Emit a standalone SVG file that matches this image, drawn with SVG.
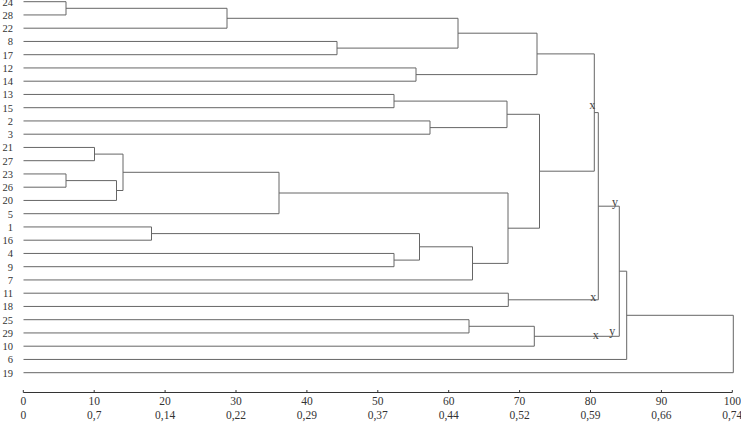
<svg xmlns="http://www.w3.org/2000/svg" width="741" height="425" viewBox="0 0 741 425">
<style>
text{font-family:"Liberation Serif","Times New Roman",Times,serif}
.lbl{font-size:10.5px;fill:#333;text-anchor:end}
.ax{font-size:11.5px;fill:#333;text-anchor:middle}
.mk{font-size:12px;fill:#444;text-anchor:middle}
.br{fill:none;stroke:#666;stroke-width:1}
.axl{fill:none;stroke:#333;stroke-width:1}
</style>
<rect width="741" height="425" fill="#fff"/>
<g id="leaves">
<g id="leaf-24"><text class="lbl" x="13" y="5.6">24</text></g>
<g id="leaf-28"><text class="lbl" x="13" y="18.8">28</text></g>
<g id="leaf-22"><text class="lbl" x="13" y="32.1">22</text></g>
<g id="leaf-8"><text class="lbl" x="13" y="45.3">8</text></g>
<g id="leaf-17"><text class="lbl" x="13" y="58.6">17</text></g>
<g id="leaf-12"><text class="lbl" x="13" y="71.8">12</text></g>
<g id="leaf-14"><text class="lbl" x="13" y="85.1">14</text></g>
<g id="leaf-13"><text class="lbl" x="13" y="98.3">13</text></g>
<g id="leaf-15"><text class="lbl" x="13" y="111.6">15</text></g>
<g id="leaf-2"><text class="lbl" x="13" y="124.8">2</text></g>
<g id="leaf-3"><text class="lbl" x="13" y="138.1">3</text></g>
<g id="leaf-21"><text class="lbl" x="13" y="151.3">21</text></g>
<g id="leaf-27"><text class="lbl" x="13" y="164.6">27</text></g>
<g id="leaf-23"><text class="lbl" x="13" y="177.8">23</text></g>
<g id="leaf-26"><text class="lbl" x="13" y="191.1">26</text></g>
<g id="leaf-20"><text class="lbl" x="13" y="204.3">20</text></g>
<g id="leaf-5"><text class="lbl" x="13" y="217.6">5</text></g>
<g id="leaf-1"><text class="lbl" x="13" y="230.8">1</text></g>
<g id="leaf-16"><text class="lbl" x="13" y="244.1">16</text></g>
<g id="leaf-4"><text class="lbl" x="13" y="257.3">4</text></g>
<g id="leaf-9"><text class="lbl" x="13" y="270.6">9</text></g>
<g id="leaf-7"><text class="lbl" x="13" y="283.8">7</text></g>
<g id="leaf-11"><text class="lbl" x="13" y="297.1">11</text></g>
<g id="leaf-18"><text class="lbl" x="13" y="310.3">18</text></g>
<g id="leaf-25"><text class="lbl" x="13" y="323.6">25</text></g>
<g id="leaf-29"><text class="lbl" x="13" y="336.8">29</text></g>
<g id="leaf-10"><text class="lbl" x="13" y="350.1">10</text></g>
<g id="leaf-6"><text class="lbl" x="13" y="363.3">6</text></g>
<g id="leaf-19"><text class="lbl" x="13" y="376.6">19</text></g>
</g>
<g id="connectors">
<path class="br" d="M23.5 1.7 H66 V14.95 H23.5"/>
<path class="br" d="M66 8.3 H227 V28.2 H23.5"/>
<path class="br" d="M23.5 41.45 H337 V54.7 H23.5"/>
<path class="br" d="M227 18.3 H458 V48.1 H337"/>
<path class="br" d="M23.5 67.95 H416 V81.2 H23.5"/>
<path class="br" d="M458 33.2 H537 V74.6 H416"/>
<path class="br" d="M23.5 94.45 H394 V107.7 H23.5"/>
<path class="br" d="M23.5 120.95 H430 V134.2 H23.5"/>
<path class="br" d="M394 101.1 H507 V127.6 H430"/>
<path class="br" d="M23.5 147.45 H94.5 V160.7 H23.5"/>
<path class="br" d="M23.5 173.95 H66 V187.2 H23.5"/>
<path class="br" d="M66 180.6 H116.5 V200.45 H23.5"/>
<path class="br" d="M94.5 154.1 H123 V190.5 H116.5"/>
<path class="br" d="M123 172.3 H279 V213.7 H23.5"/>
<path class="br" d="M23.5 226.95 H151.5 V240.2 H23.5"/>
<path class="br" d="M23.5 253.45 H394 V266.7 H23.5"/>
<path class="br" d="M151.5 233.6 H419.5 V260.1 H394"/>
<path class="br" d="M419.5 246.8 H472.5 V279.95 H23.5"/>
<path class="br" d="M279 193 H508 V263.4 H472.5"/>
<path class="br" d="M507 114.3 H539.5 V228.2 H508"/>
<path class="br" d="M537 53.9 H594.3 V171.2 H539.5"/>
<path class="br" d="M23.5 293.2 H508.3 V306.45 H23.5"/>
<path class="br" d="M594.3 112.6 H598.3 V299.8 H508.3"/>
<path class="br" d="M23.5 319.7 H469 V332.95 H23.5"/>
<path class="br" d="M469 326.3 H534.3 V346.2 H23.5"/>
<path class="br" d="M598.3 206.2 H619.3 V336.3 H534.3"/>
<path class="br" d="M619.3 271.2 H626.7 V359.45 H23.5"/>
<path class="br" d="M626.7 315.3 H733.3 V372.7 H23.5"/>
</g>
<g id="markers">
<text class="mk" x="592.3" y="109">x</text>
<text class="mk" x="615" y="206">y</text>
<text class="mk" x="593.3" y="301">x</text>
<text class="mk" x="595.7" y="339">x</text>
<text class="mk" x="612.3" y="335">y</text>
</g>
<g id="axis">
<path class="axl" d="M23.3 392.5 H732.3 M23.3 390 V392.5 M94.2 390 V392.5 M165.1 390 V392.5 M236 390 V392.5 M306.9 390 V392.5 M377.8 390 V392.5 M448.7 390 V392.5 M519.6 390 V392.5 M590.5 390 V392.5 M661.4 390 V392.5 M732.3 390 V392.5"/>
<text class="ax" x="23.3" y="404.5">0</text>
<text class="ax" x="94.2" y="404.5">10</text>
<text class="ax" x="165.1" y="404.5">20</text>
<text class="ax" x="236" y="404.5">30</text>
<text class="ax" x="306.9" y="404.5">40</text>
<text class="ax" x="377.8" y="404.5">50</text>
<text class="ax" x="448.7" y="404.5">60</text>
<text class="ax" x="519.6" y="404.5">70</text>
<text class="ax" x="590.5" y="404.5">80</text>
<text class="ax" x="661.4" y="404.5">90</text>
<text class="ax" x="732.3" y="404.5">100</text>
<text class="ax" x="23.3" y="419">0</text>
<text class="ax" x="94.2" y="419">0,7</text>
<text class="ax" x="165.1" y="419">0,14</text>
<text class="ax" x="236" y="419">0,22</text>
<text class="ax" x="306.9" y="419">0,29</text>
<text class="ax" x="377.8" y="419">0,37</text>
<text class="ax" x="448.7" y="419">0,44</text>
<text class="ax" x="519.6" y="419">0,52</text>
<text class="ax" x="590.5" y="419">0,59</text>
<text class="ax" x="661.4" y="419">0,66</text>
<text class="ax" x="732.3" y="419">0,74</text>
</g>
</svg>
